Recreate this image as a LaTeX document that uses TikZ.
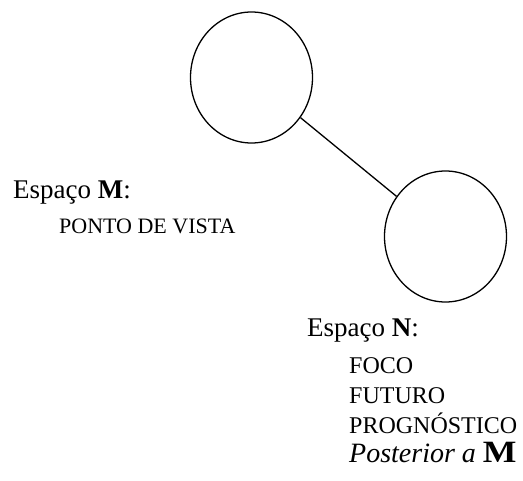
\documentclass[tikz,border=0pt]{standalone}
\usepackage{fontspec}
\setmainfont{Liberation Serif}
\usetikzlibrary{shapes.geometric}
\begin{document}
\begin{tikzpicture}[x=1pt,y=-1pt,
  space/.style={draw, ellipse, line width=1.3pt, minimum width=122pt, minimum height=131pt, inner sep=0pt},
  link/.style={line width=1.3pt},
  head/.style={anchor=base west, inner sep=0pt, font=\fontsize{27}{27}\selectfont},
  itemm/.style={anchor=base west, inner sep=0pt, font=\fontsize{22}{22}\selectfont},
  item/.style={anchor=base west, inner sep=0pt, font=\fontsize{24}{24}\selectfont},
  post/.style={anchor=base west, inner sep=0pt, font=\fontsize{28}{28}\selectfont\itshape}]
\useasboundingbox (0,0) rectangle (523,481);
\node[space] (m) at (251.5,77.5) {};
\node[space] (n) at (445.5,236.5) {};
\draw[link] (m) -- (n);
\node[head] (mt) at (13,199) {Espaço \textbf{M}:};
\node[itemm] (m1) at (59,234) {PONTO DE VISTA};
\node[head] (nt) at (307,337) {Espaço \textbf{N}:};
\node[item] (n1) at (349,374) {FOCO};
\node[item] (n2) at (349,404) {FUTURO};
\node[item] (n3) at (349,434) {PROGNÓSTICO};
\node[post] (n4) at (349,463) {Posterior a \scalebox{1.15}[1]{\upshape\fontsize{31}{31}\selectfont\textbf{M}}};
\end{tikzpicture}
\end{document}
